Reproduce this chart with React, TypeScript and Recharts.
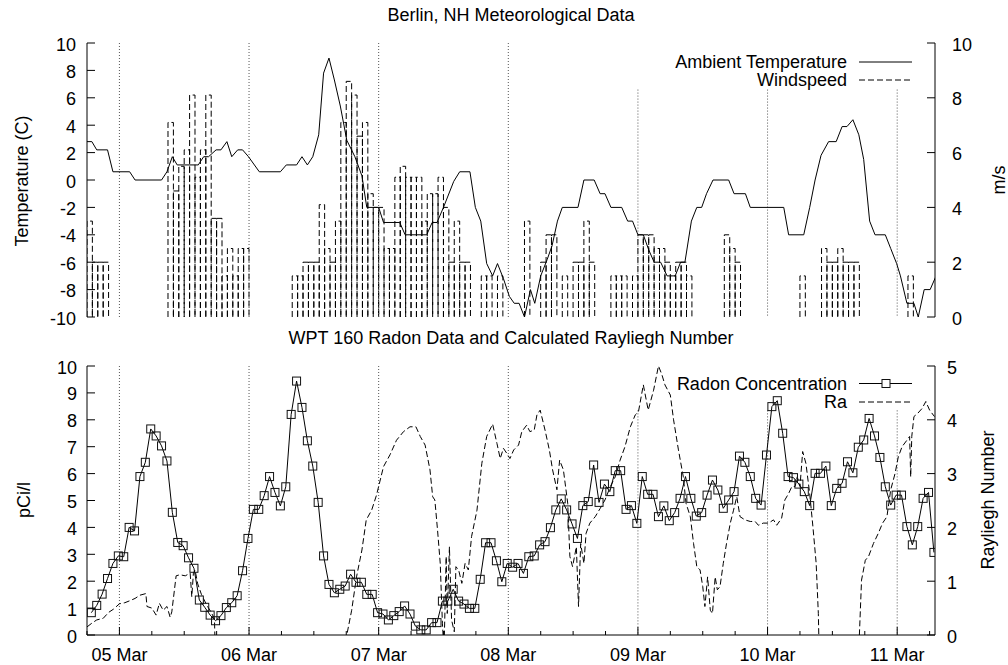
import {
  ComposedChart,
  Line,
  Bar,
  XAxis,
  YAxis,
  ReferenceLine,
  Legend,
} from "recharts";

const FONT = "'Liberation Sans', Arial, Helvetica, sans-serif";

// time axis: hours counted from 05 Mar 00:00
const hourTicks = [
  -6, 0, 6, 12, 18, 24, 30, 36, 42, 48, 54, 60, 66, 72, 78, 84, 90, 96, 102,
  108, 114, 120, 126, 132, 138, 144, 150,
];
const dayHours = [0, 24, 48, 72, 96, 120, 144];
const dayLabels = ["05 Mar", "06 Mar", "07 Mar", "08 Mar", "09 Mar", "10 Mar", "11 Mar"];

const tempTicks = [-10, -8, -6, -4, -2, 0, 2, 4, 6, 8, 10];
const windTicks = [0, 2, 4, 6, 8, 10];
const radonTicks = [0, 1, 2, 3, 4, 5, 6, 7, 8, 9, 10];
const raTicks = [0, 1, 2, 3, 4, 5];

// ambient temperature (C)
const tempHours = [
  -6, -5.1, -4.2, -2.2, -1.2, 1.9, 2.9, 7.8, 8.8, 9.8, 10.7, 14.6, 15.6, 16.5,
  17.9, 18.8, 19.9, 20.8, 21.9, 22.8, 23.9, 25.9, 29.8, 30.9, 32.8, 33.8, 34.8,
  35.8, 36.9, 37.8, 38.8, 39.8, 40.9, 42.1, 43.6, 44.9, 45.8, 48.0, 48.9, 51.9,
  52.9, 56.9, 57.9, 58.8, 60.0, 61.9, 63.0, 64.9, 65.9, 66.9, 68.0, 69.1, 70.0,
  71.1, 72.2, 73.1, 74.0, 75.0, 76.1, 76.9, 78.0, 79.2, 80.1, 81.1, 82.0, 84.9,
  86.0, 87.9, 89.0, 89.9, 91.0, 93.0, 94.1, 95.0, 96.0, 97.0, 98.0, 99.0, 100.2,
  101.4, 102.9, 103.9, 104.7, 105.9, 106.9, 107.8, 108.7, 109.9, 112.8, 113.8,
  115.9, 116.8, 123.0, 123.9, 126.7, 127.8, 128.8, 129.9, 131.3, 132.7, 133.8,
  134.7, 135.8, 136.9, 137.8, 138.9, 139.9, 141.8, 142.8, 143.9, 144.6, 145.8,
  147.1, 147.9, 149.0, 150.1, 151.2,
];
const tempValues = [
  2.8, 2.8, 2.2, 2.2, 0.6, 0.6, 0, 0, 0.6, 1.7, 1.1, 1.1, 1.7, 1.7, 2.2, 2.2,
  2.8, 1.7, 2.2, 2.2, 1.7, 0.6, 0.6, 1.1, 1.1, 1.7, 1.1, 1.7, 3.3, 7.8, 8.9, 7.3,
  5.4, 2.9, 1.7, 0.3, -2.0, -2.0, -3.1, -3.1, -4.0, -4.0, -3.1, -3.1, -2.0, -0.1,
  0.6, 0.6, -2.0, -3.0, -6.1, -7.0, -6.1, -7.2, -8.5, -9.0, -9.0, -10, -8.0,
  -9.0, -7.0, -5.8, -4.8, -3.0, -2.0, -2.0, 0.0, 0.0, -1.0, -1.0, -2.0, -2.0,
  -3.0, -3.0, -4.0, -4.0, -5.1, -6.0, -6.0, -7.0, -7.0, -6.0, -6.0, -3.0, -2.0,
  -2.0, -1.0, 0.0, 0.0, -1.0, -1.0, -2.0, -2.0, -4.0, -4.0, -2.0, 0.0, 1.8, 2.8,
  2.8, 3.9, 3.9, 4.4, 3.3, 1.5, -3.0, -4.0, -4.0, -5.0, -6.1, -7.0, -9.0, -9.0,
  -10, -8, -8, -7.0,
];

// windspeed (m/s), one box per hour starting 04 Mar 18:00
const windFirstHour = -6;
const windSpeed = [
  3.5, 2, 2, 2, 0, 0, 0, 0, 0, 0,
  0, 0, 0, 0, 0, 7.1, 4.6, 5.5, 6.1, 8.1,
  5.1, 6.1, 8.1, 3.6, 3.6, 1.5, 2.5, 1.5, 2.5, 2.5,
  0, 0, 0, 0, 0, 0, 0, 0, 1.5, 1.5,
  2, 2, 2, 4.1, 2.5, 2, 3.5, 7.1, 8.6, 8.1,
  6.6, 7.1, 4.5, 4, 4, 2.5, 2.5, 5.1, 5.5, 5.1,
  5.1, 5.1, 3.5, 4.5, 4.5, 5.1, 4, 2, 3.5, 2,
  2, 0, 0, 1.5, 1.5, 0, 1.5, 0, 0, 0,
  0, 3.5, 0, 0, 2, 3, 3, 0, 1.5, 0,
  2, 2, 3.5, 2, 0, 0, 0, 1.5, 1.5, 1.5,
  0, 1.5, 3, 3, 3, 2.5, 2.5, 2, 1.5, 2,
  2, 1.5, 0, 0, 0, 0, 0, 0, 3, 2.5,
  2, 0, 0, 0, 0, 0, 0, 0, 0, 0,
  0, 0, 1.5, 0, 0, 0, 2.5, 2, 2, 2.5,
  2, 2, 2, 0, 0, 0, 0, 0, 0, 0,
  0, 0, 1.5, 0, 0, 0, 0,
];

// radon concentration (pCi/l), hourly readings
const radonFirstHour = -5.2;
const radonValues = [
  0.83, 1.1, 1.52, 2.1, 2.66, 2.94, 2.91, 4.0, 3.87, 5.89, 6.42, 7.66, 7.4, 7.03,
  6.47, 4.56, 3.44, 3.32, 2.87, 2.48, 1.3, 1.03, 0.74, 0.53, 0.72, 1.02, 1.2,
  1.46, 2.39, 3.59, 4.67, 4.67, 5.18, 5.89, 5.3, 4.8, 5.51, 8.2, 9.44, 8.46,
  7.22, 6.28, 4.93, 2.94, 1.88, 1.57, 1.7,
  1.82, 2.26, 1.96, 1.96, 1.51, 1.51, 0.83, 0.78, 0.56, 0.72, 0.87, 1.08, 0.78,
  0.33, 0.19, 0.19, 0.46, 0.46, 1.26, 1.26, 1.7, 1.26, 1.15, 0.99, 0.99, 2.07,
  3.43, 3.43, 2.76, 1.98, 2.66, 2.52, 2.66, 2.29, 2.91, 2.94, 3.35, 3.47, 3.99,
  4.65, 5.06, 4.65, 4.13, 3.59, 4.81, 4.96, 6.32, 4.93, 5.61, 5.33, 6.11, 6.11,
  4.67, 4.81, 4.15, 5.89, 5.23, 5.23, 4.4, 4.8, 4.25,
  4.55, 5.08, 5.89, 5.08, 4.42, 4.55, 5.2, 5.76, 5.39, 4.71, 5.02, 5.33, 6.65,
  6.42, 5.89, 5.08, 4.83, 6.69, 8.49, 8.71, 7.5, 5.89, 5.85, 5.61, 5.33, 4.81,
  6.01, 6.01, 6.28, 4.81, 5.45, 5.64, 6.44, 6.03, 6.98, 7.25, 8.05, 7.4, 6.6,
  5.51, 4.83, 5.2, 5.2, 4.03, 3.35, 4.03, 5.08, 5.3, 3.07,
];

// calculated Rayleigh number (negative stretches fall below the axis)
const raHours = [
  -6.0, -5.1, -4.2, -3.0, -2.0, -1.1, 0.0, 1.0, 2.0, 2.9, 3.8, 4.9, 5.1, 6.0,
  6.8, 7.4, 8.1, 8.8, 9.4, 9.7, 10.5, 11.2, 12.2, 13.1, 13.4, 13.7, 14.0, 14.5,
  15.2, 16.2, 17.0, 17.6, 17.9, 41.9, 42.2, 43.0, 43.9, 44.9, 45.7, 46.7, 47.6,
  48.9, 50.1, 51.3, 52.6, 53.8, 54.9, 55.7, 56.6, 57.5, 58.0, 58.4, 58.9, 59.4,
  59.8, 60.1, 60.5, 60.7, 61.1, 61.5, 62.0, 62.3, 62.8, 63.4, 64.0, 64.6, 65.2,
  66.2, 67.1, 68.0, 69.1, 69.9, 70.5, 71.1, 71.7, 72.3, 73.0, 73.9, 74.5, 75.4,
  76.0, 76.8, 77.3, 77.9, 78.8, 79.6, 80.2, 81.0, 81.5, 82.2, 83.0, 83.4, 83.9,
  84.6, 85.0, 85.4, 86.0, 86.4, 87.1, 88.1, 89.0, 89.9, 90.9, 91.8, 92.7, 93.6,
  94.6, 95.5, 96.1, 97.0, 97.9, 98.9, 99.8, 100.4, 101.0, 102.0, 102.6, 103.5,
  104.4, 104.9, 105.7, 106.3, 106.9, 107.5, 108.0, 108.4, 108.9, 109.4, 109.8,
  110.3, 110.7, 111.2, 111.8, 112.4, 113.1, 113.7, 114.3, 114.9, 115.8, 116.8,
  117.7, 118.3, 119.2, 120.2, 121.1, 121.7, 122.6, 123.2, 123.9, 124.5, 125.1,
  125.5, 126.0, 126.5, 127.1, 127.8, 128.4, 129.0, 129.4, 129.7, 136.9, 137.0,
  137.4, 138.1, 138.7, 139.6, 140.5, 141.3, 142.1, 142.8, 143.6, 144.2, 144.9,
  145.8, 146.3, 146.5, 146.7, 147.1, 147.8, 148.6, 149.3, 150.0, 150.9,
];
const raValues = [
  0.15, 0.22, 0.28, 0.31, 0.42, 0.48, 0.58, 0.6, 0.64, 0.68, 0.74, 0.77, 0.53,
  0.5, 0.37, 0.59, 0.46, 0.53, 0.33, 0.43, 1.1, 1.12, 1.1, 1.15, 0.71, 1.15,
  1.21, 0.95, 0.75, 0.55, 0.42, 0.3, -1.0, -1.0, 0.05, 0.46, 1.08, 1.58, 2.14,
  2.32, 2.6, 3.13, 3.35, 3.62, 3.78, 3.87, 3.87, 3.69, 3.53, 3.07, 2.57, 2.51,
  1.95, 1.33, 0.22, -0.3, 1.46, 0.4, 1.64, 0.28, 0.06, 1.27, 1.21, 0.96, 1.33,
  1.21, 1.83, 2.32, 3.19, 3.69, 3.92, 3.56, 3.28, 3.47, 3.38, 3.28, 3.44, 3.53,
  3.78, 3.9, 3.78, 3.81, 4.09, 4.18, 3.81, 3.44, 3.07, 2.7, 3.25, 3.07, 2.45,
  1.46, 1.27, 1.64, 0.53, 1.7, 1.33, 1.89, 2.08, 2.2, 2.35, 2.51, 2.76, 2.94,
  3.25, 3.5, 3.87, 4.09, 4.15, 4.65, 4.18, 4.55, 5.0, 4.85, 4.65, 4.46, 4.0,
  3.44, 2.94, 2.45, 2.2, 1.7, 1.27, 1.21, 0.9, 0.53, 1.08, 0.46, 0.4, 1.08, 0.84,
  0.9, 1.33, 1.7, 2.08, 2.32, 2.57, 2.2, 2.14, 2.11, 2.11, 2.04, 2.08, 2.08,
  2.14, 2.04, 2.17, 2.51, 2.63, 2.76, 2.76, 2.94, 2.76, 3.41, 3.19, 2.63, 2.01,
  1.33, 0.4, -1.0, -1.0, 0.0, 1.02, 1.39, 1.46, 1.7, 1.89, 2.08, 2.2, 2.7, 3.0,
  3.31, 3.5, 3.62, 3.69, 2.94, 3.69, 4.06, 4.12, 4.21, 4.34, 4.18, 4.06,
];

const windData = windSpeed.map((w, i) => ({ h: windFirstHour + i + 0.5, wind: w }));
const tempData = tempHours.map((h, i) => ({ h, temp: tempValues[i] }));
const radonData = radonValues.map((v, i) => ({ h: radonFirstHour + i, radon: v }));
const raData = raHours.map((h, i) => ({ h, ra: raValues[i] }));

const X_DOMAIN = [-6, 151];
// one hour of the time axis in pixels (plot is 848px wide for 157 hours)
const HOUR_PX = 848 / 157;
const DASH = "6 3";

const timeTick = (edge: "top" | "bottom", labels: boolean) => (p: any) => {
  const h = p.payload.value;
  const day = h % 24 === 0;
  const len = day ? 8 : 4;
  return (
    <g key={`${edge}-${h}`}>
      <line x1={p.x} y1={p.y} x2={p.x} y2={edge === "top" ? p.y + len : p.y - len} stroke="#000" />
      {labels && day ? (
        <text x={p.x} y={p.y + 26} textAnchor="middle" fontSize={18} fill="#000">
          {dayLabels[h / 24]}
        </text>
      ) : null}
    </g>
  );
};

const valueTick = (side: "left" | "right", gap: number) => (p: any) => {
  const inward = side === "left" ? 8 : -8;
  return (
    <g key={`${side}-${p.payload.value}`}>
      <line x1={p.x} y1={p.y} x2={p.x + inward} y2={p.y} stroke="#000" />
      <text
        x={side === "left" ? p.x - gap : p.x + gap}
        y={p.y + 7.5}
        textAnchor={side === "left" ? "end" : "start"}
        fontSize={18}
        fill="#000"
      >
        {p.payload.value}
      </text>
    </g>
  );
};

// gnuplot-style dashed box, one hour wide, centred on the bar position
const WindBox = (p: any) => {
  if (!p.height || p.height <= 0) return <g />;
  const cx = p.x + p.width / 2;
  const x0 = cx - HOUR_PX / 2;
  const x1 = cx + HOUR_PX / 2;
  const yb = p.y + p.height;
  return (
    <path
      d={`M${x0},${yb} V${p.y} H${x1} V${yb}`}
      fill="none"
      stroke="#000"
      strokeWidth={1}
      strokeDasharray={DASH}
    />
  );
};

const SquareDot = (p: any) => {
  if (p.cx == null || p.cy == null) return <g key={p.key} />;
  return (
    <rect key={p.key} x={p.cx - 4} y={p.cy - 4} width={8} height={8} fill="none" stroke="#111" strokeWidth={1} />
  );
};

const MetKey = () => (
  <svg width={335} height={50} style={{ overflow: "visible" }}>
    <text x={247} y={25} textAnchor="end" fontSize={18} fill="#000">Ambient Temperature</text>
    <line x1={259} x2={312} y1={19} y2={19} stroke="#000" />
    <text x={247} y={43} textAnchor="end" fontSize={18} fill="#000">Windspeed</text>
    <line x1={259} x2={312} y1={37} y2={37} stroke="#000" strokeDasharray={DASH} />
  </svg>
);

const RadonKey = () => (
  <svg width={335} height={50} style={{ overflow: "visible" }}>
    <text x={247} y={24} textAnchor="end" fontSize={18} fill="#000">Radon Concentration</text>
    <line x1={259} x2={312} y1={17.5} y2={17.5} stroke="#000" />
    <rect x={282} y={13.5} width={8} height={8} fill="#fff" stroke="#111" />
    <text x={247} y={42} textAnchor="end" fontSize={18} fill="#000">Ra</text>
    <line x1={259} x2={312} y1={36} y2={36} stroke="#000" strokeDasharray={DASH} />
  </svg>
);

function MetChart() {
  return (
    <ComposedChart width={1008} height={330} data={windData} margin={{ top: 43, right: 0, bottom: 13, left: 0 }}>
      <XAxis
        xAxisId="b"
        dataKey="h"
        type="number"
        domain={X_DOMAIN}
        allowDataOverflow
        ticks={hourTicks}
        interval={0}
        height={0}
        tickSize={0}
        tickMargin={0}
        tickLine={false}
        stroke="#000"
        tick={timeTick("bottom", false)}
      />
      <XAxis
        xAxisId="t"
        orientation="top"
        dataKey="h"
        type="number"
        domain={X_DOMAIN}
        allowDataOverflow
        ticks={hourTicks}
        interval={0}
        height={0}
        tickSize={0}
        tickMargin={0}
        tickLine={false}
        stroke="#000"
        tick={timeTick("top", false)}
      />
      <YAxis
        yAxisId="temp"
        width={87}
        domain={[-10, 10]}
        allowDataOverflow
        ticks={tempTicks}
        interval={0}
        tickSize={0}
        tickMargin={0}
        tickLine={false}
        stroke="#000"
        tick={valueTick("left", 11)}
      />
      <YAxis
        yAxisId="wind"
        orientation="right"
        width={73}
        domain={[0, 10]}
        allowDataOverflow
        ticks={windTicks}
        interval={0}
        tickSize={0}
        tickMargin={0}
        tickLine={false}
        stroke="#000"
        tick={valueTick("right", 17)}
      />
      {dayHours.map((d) => (
        <ReferenceLine
          key={d}
          xAxisId="b"
          yAxisId="temp"
          segment={[
            { x: d, y: d >= 96 ? 6.6 : 10 },
            { x: d, y: -10 },
          ]}
          stroke="#555"
          strokeDasharray="1 2"
        />
      ))}
      <Bar
        xAxisId="b"
        yAxisId="wind"
        dataKey="wind"
        name="Windspeed"
        barSize={5}
        fill="none"
        stroke="#000"
        shape={WindBox}
        isAnimationActive={false}
      />
      <Line
        xAxisId="b"
        yAxisId="temp"
        data={tempData}
        dataKey="temp"
        name="Ambient Temperature"
        type="linear"
        stroke="#000"
        strokeWidth={1}
        dot={false}
        isAnimationActive={false}
      />
      <Legend
        layout="horizontal"
        verticalAlign="middle"
        align="center"
        wrapperStyle={{ left: 600, top: 43, width: 335, height: 50 }}
        content={() => <MetKey />}
      />
    </ComposedChart>
  );
}

function RadonChart() {
  return (
    <ComposedChart width={1008} height={335} data={radonData} margin={{ top: 36, right: 0, bottom: 0, left: 0 }}>
      <XAxis
        xAxisId="b"
        dataKey="h"
        type="number"
        domain={X_DOMAIN}
        allowDataOverflow
        ticks={hourTicks}
        interval={0}
        height={30}
        tickSize={0}
        tickMargin={0}
        tickLine={false}
        stroke="#000"
        tick={timeTick("bottom", true)}
      />
      <XAxis
        xAxisId="t"
        orientation="top"
        dataKey="h"
        type="number"
        domain={X_DOMAIN}
        allowDataOverflow
        ticks={hourTicks}
        interval={0}
        height={0}
        tickSize={0}
        tickMargin={0}
        tickLine={false}
        stroke="#000"
        tick={timeTick("top", false)}
      />
      <YAxis
        yAxisId="pci"
        width={87}
        domain={[0, 10]}
        allowDataOverflow
        ticks={radonTicks}
        interval={0}
        tickSize={0}
        tickMargin={0}
        tickLine={false}
        stroke="#000"
        tick={valueTick("left", 10)}
      />
      <YAxis
        yAxisId="ra"
        orientation="right"
        width={73}
        domain={[0, 5]}
        allowDataOverflow
        ticks={raTicks}
        interval={0}
        tickSize={0}
        tickMargin={0}
        tickLine={false}
        stroke="#000"
        tick={valueTick("right", 12)}
      />
      {dayHours.map((d) => (
        <ReferenceLine
          key={d}
          xAxisId="b"
          yAxisId="pci"
          segment={[
            { x: d, y: d >= 96 ? 8.35 : 10 },
            { x: d, y: 0 },
          ]}
          stroke="#555"
          strokeDasharray="1 2"
        />
      ))}
      <Line
        xAxisId="b"
        yAxisId="ra"
        data={raData}
        dataKey="ra"
        name="Ra"
        type="linear"
        stroke="#000"
        strokeWidth={1}
        strokeDasharray={DASH}
        dot={false}
        isAnimationActive={false}
      />
      <Line
        xAxisId="b"
        yAxisId="pci"
        dataKey="radon"
        name="Radon Concentration"
        type="linear"
        stroke="#000"
        strokeWidth={1}
        dot={SquareDot}
        isAnimationActive={false}
      />
      <Legend
        layout="horizontal"
        verticalAlign="middle"
        align="center"
        wrapperStyle={{ left: 600, top: 366 - 330, width: 335, height: 50 }}
        content={() => <RadonKey />}
      />
    </ComposedChart>
  );
}

export default function App() {
  return (
    <div
      style={{
        position: "absolute",
        left: 0,
        top: 0,
        width: 1008,
        height: 665,
        background: "#fff",
        fontFamily: FONT,
      }}
    >
      <div style={{ position: "absolute", left: 0, top: 0 }}>
        <MetChart />
      </div>
      <div style={{ position: "absolute", left: 0, top: 330 }}>
        <RadonChart />
      </div>
      <svg
        width={1008}
        height={665}
        fontFamily={FONT}
        fontSize={18}
        style={{ position: "absolute", left: 0, top: 0, pointerEvents: "none" }}
      >
        <text x={511} y={21} textAnchor="middle" fill="#000">Berlin, NH Meteorological Data</text>
        <text x={511} y={344} textAnchor="middle" fill="#000">WPT 160 Radon Data and Calculated Rayliegh Number</text>
        <text transform="translate(28,181) rotate(-90)" textAnchor="middle" fill="#000">Temperature (C)</text>
        <text transform="translate(30,500) rotate(-90)" textAnchor="middle" fill="#000">pCi/l</text>
        <text transform="translate(1005,180) rotate(-90)" textAnchor="middle" fill="#000">m/s</text>
        <text transform="translate(994,500) rotate(-90)" textAnchor="middle" fill="#000">Rayliegh Number</text>
      </svg>
    </div>
  );
}
